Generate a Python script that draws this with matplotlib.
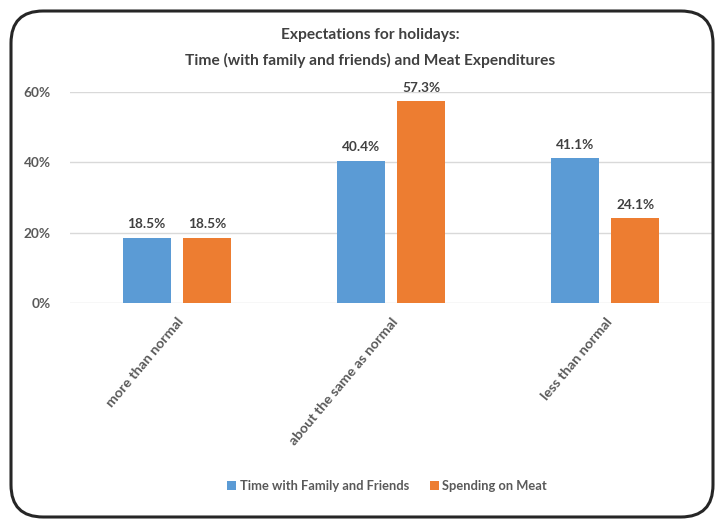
import matplotlib
matplotlib.use("Agg")
import matplotlib.pyplot as plt
from matplotlib.patches import FancyBboxPatch
import numpy as np

categories = ["more than normal", "about the same as normal", "less than normal"]
series_names = ["Time with Family and Friends", "Spending on Meat"]
time_vals = [18.5, 40.4, 41.1]
meat_vals = [18.5, 57.3, 24.1]
yticks = [0, 20, 40, 60]
ytick_labels = ["0%", "20%", "40%", "60%"]
colors = ["#5B9BD5", "#ED7D31"]

plt.rcParams['font.family'] = ['Lato', 'DejaVu Sans']
txt = "#404040"

fig = plt.figure(figsize=(7.15, 5.19), dpi=100)
W, H = 715, 519

# rounded border
border = FancyBboxPatch((11 / W, 2 / H), (713 - 11) / W, (517 - 11) / H,
                        boxstyle="round,pad=0,rounding_size=0.045",
                        transform=fig.transFigure, fill=False,
                        edgecolor="#262626", linewidth=2.2, clip_on=False,
                        mutation_aspect=W / H)
fig.patches.append(border)

ax = fig.add_axes([70 / W, (H - 303) / H, 642 / W, (303 - 92) / H])
x = np.arange(len(categories))
bw = 0.224
off = 0.142
b1 = ax.bar(x - off, time_vals, bw, color=colors[0], label=series_names[0])
b2 = ax.bar(x + off, meat_vals, bw, color=colors[1], label=series_names[1])
for bars, vals in ((b1, time_vals), (b2, meat_vals)):
    for r, v in zip(bars, vals):
        ax.text(r.get_x() + r.get_width() / 2, v + 2.2, f"{v:.1f}%",
                ha="center", va="bottom", fontsize=9.8, fontweight="bold",
                color=txt, clip_on=False)

ax.set_xlim(-0.5, 2.5)
ax.set_ylim(0, 60)
ax.set_yticks(yticks)
ax.set_yticklabels(ytick_labels, fontsize=9.8, fontweight="bold", color="#595959")
ax.yaxis.grid(True, color="#D9D9D9", linewidth=1)
ax.set_axisbelow(True)
for s in ax.spines.values():
    s.set_visible(False)
ax.tick_params(axis="both", length=0)
ax.tick_params(axis="y", pad=14)
ax.set_xticks(x)
ax.set_xticklabels(categories, rotation=50, ha="right", rotation_mode="anchor",
                   fontsize=10.2, fontweight="bold", color="#595959")
ax.tick_params(axis="x", pad=9)

fig.text(370 / W, 1 - 35 / H, "Expectations for holidays:", ha="center", va="center",
         fontsize=11.2, fontweight="bold", color=txt)
fig.text(370 / W, 1 - 60 / H, "Time (with family and friends) and Meat Expenditures",
         ha="center", va="center", fontsize=11.2, fontweight="bold", color=txt)

fig.legend(handles=[b1, b2], labels=series_names, loc="center",
           bbox_to_anchor=(387 / W, 1 - 486 / H), ncol=2, frameon=False,
           handlelength=0.7, handleheight=0.7, handletextpad=0.3,
           columnspacing=1.6, labelcolor="#595959",
           prop={'family': ['Lato', 'DejaVu Sans'], 'weight': 'bold', 'size': 9.3})

fig.savefig("out.png", dpi=100)
